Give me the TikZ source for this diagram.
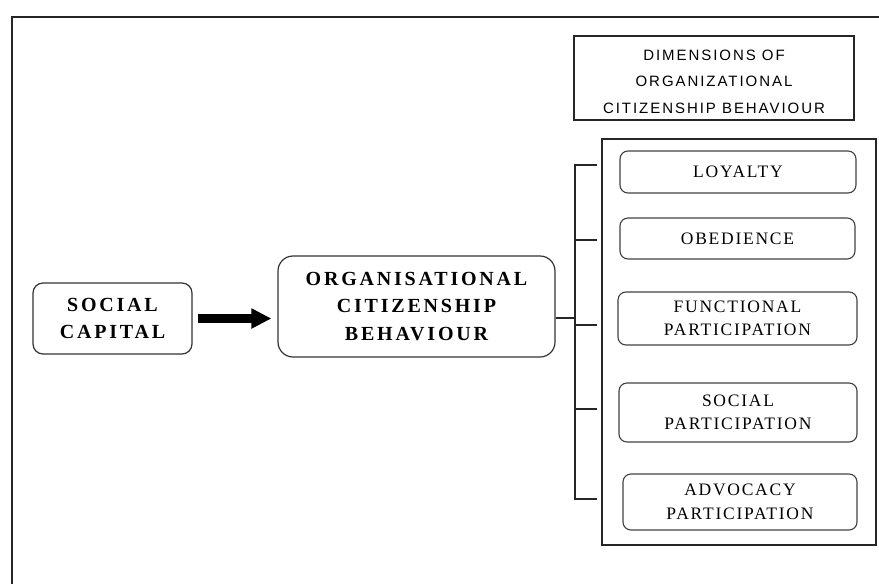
\documentclass[tikz,border=0pt]{standalone}
\usepackage{fontspec}
\setmainfont{Liberation Serif}
\newfontfamily\ocbfont[LetterSpace=14]{Liberation Serif}
\newfontfamily\dimfont[LetterSpace=13]{Liberation Sans}
\newfontfamily\innerfont[LetterSpace=10]{Liberation Serif}
\usetikzlibrary{arrows.meta}
\begin{document}
\begin{tikzpicture}[x=1pt,y=-1pt,
  bigbox/.style={draw=black!80, line width=1.2pt, inner sep=0pt, align=center,
    font=\ocbfont\bfseries\fontsize{20}{27.5}\selectfont},
  dimbox/.style={draw=black!85, line width=1.1pt, inner sep=0pt},
  dimtext/.style={inner sep=0pt, align=center, font=\dimfont\fontsize{15}{26.5}\selectfont},
  contbox/.style={draw=black!85, line width=1.2pt, inner sep=0pt},
  itembox/.style={draw=black!75, line width=1.1pt, rounded corners=8pt, inner sep=0pt, align=center,
    font=\innerfont\fontsize{17.5}{23.5}\selectfont},
  conn/.style={draw=black!85, line width=1.1pt},
  bigarrow/.style={line width=9pt, -{Triangle[length=20pt,width=19pt]}}
]
\useasboundingbox (0,0) rectangle (879,584);
% frame (cropped: only top and left edges visible)
\draw[line width=2.2pt, black!85] (11.8,584) -- (11.8,16.8) -- (879,16.8);

% main nodes
\node[bigbox, rounded corners=10pt, minimum width=159pt, minimum height=71pt] (sc) at (112.5,318.5) {SOCIAL\\CAPITAL};
\node[bigbox, rounded corners=15pt, minimum width=277pt, minimum height=101pt] (ocb) at (416.5,306.5) {ORGANISATIONAL\\CITIZENSHIP\\BEHAVIOUR};

\node[dimbox, minimum width=280pt, minimum height=84pt] (dim) at (714,78) {};
\node[dimtext] (dimt) at ([yshift=-3.5pt]dim.center) {DIMENSIONS OF\\ORGANIZATIONAL\\CITIZENSHIP BEHAVIOUR};

\node[contbox, minimum width=274pt, minimum height=406pt] (cont) at (739,342) {};

\node[itembox, minimum width=236pt, minimum height=42pt] (loy) at (738,172) {LOYALTY};
\node[itembox, minimum width=235pt, minimum height=41pt] (obe) at (737.5,238.5) {OBEDIENCE};
\node[itembox, minimum width=239pt, minimum height=53pt] (fun) at (737.5,318.5) {FUNCTIONAL\\PARTICIPATION};
\node[itembox, minimum width=238pt, minimum height=59pt] (soc) at (738,412.5) {SOCIAL\\PARTICIPATION};
\node[itembox, minimum width=234pt, minimum height=56pt] (adv) at (740,502) {ADVOCACY\\PARTICIPATION};

% arrow
\draw[bigarrow, shorten <=5pt, shorten >=6pt] (sc.east) -- (ocb.west |- sc.east);

% bracket
\coordinate (jt) at (575,165);
\coordinate (jb) at (575,499);
\coordinate (jm) at (575,318);
\coordinate (e1) at (597,165);
\coordinate (e2) at (597,240);
\coordinate (e3) at (597,325);
\coordinate (e4) at (597,409);
\coordinate (e5) at (597,499);
\draw[conn] (e1) -- (jt) -- (jb) -- (e5);
\draw[conn] (jt |- e2) -- (e2);
\draw[conn] (jt |- e3) -- (e3);
\draw[conn] (jt |- e4) -- (e4);
\draw[conn] (ocb.east |- jm) -- (jm);
\end{tikzpicture}
\end{document}
